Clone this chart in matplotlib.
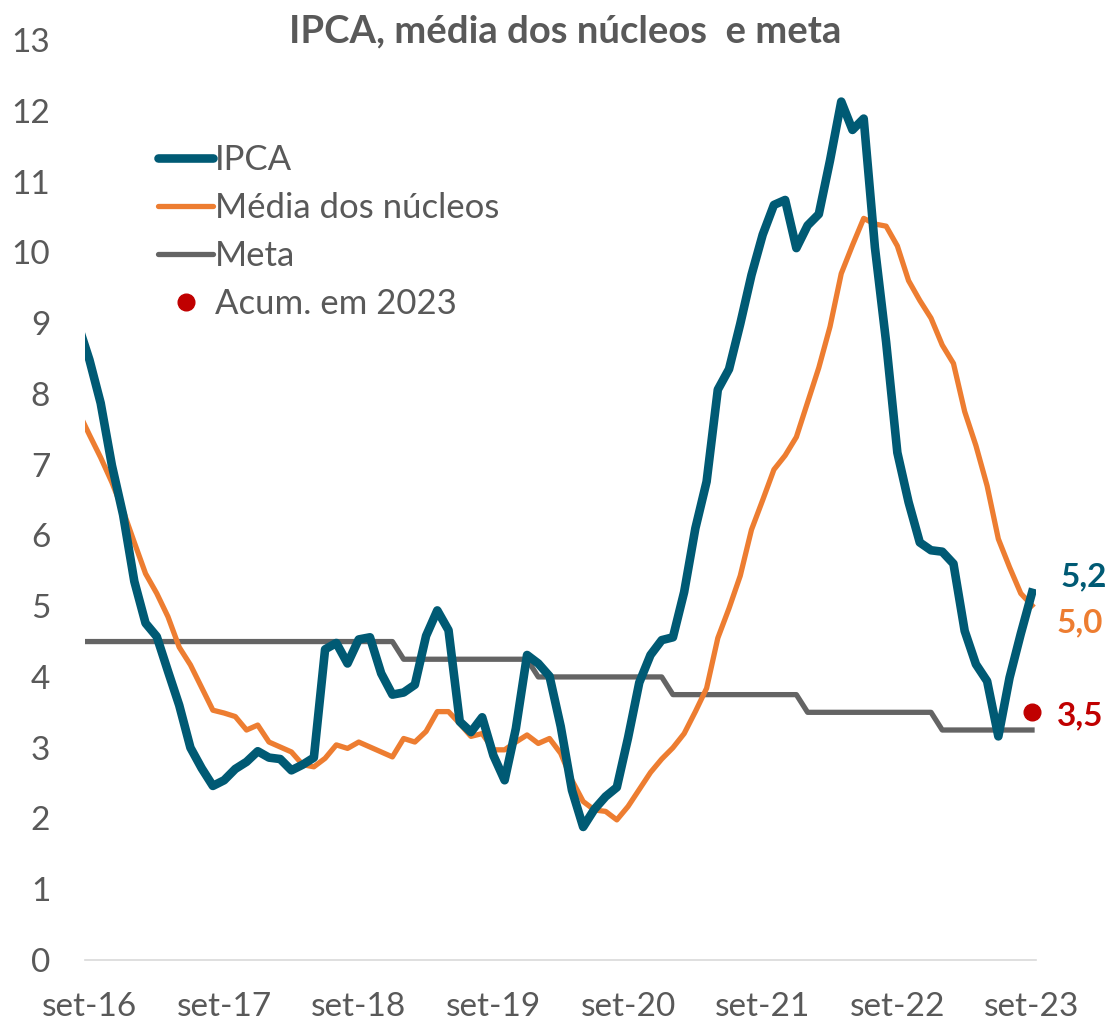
import matplotlib.pyplot as plt
from matplotlib.lines import Line2D

plt.rcParams["font.family"] = ["Lato", "DejaVu Sans"]

# meses: ago-16 (indice -1) ate set-23 (indice 84)
ipca = [
    8.97, 8.48, 7.87, 6.99, 6.29,
    5.35, 4.76, 4.57, 4.08, 3.60, 3.00, 2.71, 2.46, 2.54, 2.70, 2.80, 2.95,
    2.86, 2.84, 2.68, 2.76, 2.86, 4.39, 4.48, 4.19, 4.53, 4.56, 4.05, 3.75,
    3.78, 3.89, 4.58, 4.94, 4.66, 3.37, 3.22, 3.43, 2.89, 2.54, 3.27, 4.31,
    4.19, 4.01, 3.30, 2.40, 1.88, 2.13, 2.31, 2.44, 3.14, 3.92, 4.31, 4.52,
    4.56, 5.20, 6.10, 6.76, 8.06, 8.35, 8.99, 9.68, 10.25, 10.67, 10.74, 10.06,
    10.38, 10.54, 11.30, 12.13, 11.73, 11.89, 10.07, 8.73, 7.17, 6.47, 5.90, 5.79,
    5.77, 5.60, 4.65, 4.18, 3.94, 3.16, 3.99, 4.61, 5.19,
]
nucleos = [
    7.75, 7.42, 7.10, 6.75, 6.35,
    5.90, 5.46, 5.18, 4.85, 4.42, 4.17, 3.85, 3.53, 3.49, 3.44, 3.25, 3.32,
    3.08, 3.01, 2.94, 2.76, 2.73, 2.85, 3.04, 2.99, 3.08, 3.01, 2.94, 2.87,
    3.13, 3.08, 3.23, 3.51, 3.51, 3.34, 3.16, 3.20, 2.97, 2.97, 3.08, 3.18,
    3.06, 3.13, 2.92, 2.54, 2.24, 2.12, 2.10, 1.98, 2.17, 2.41, 2.65, 2.84,
    3.00, 3.20, 3.51, 3.84, 4.55, 4.97, 5.43, 6.08, 6.50, 6.93, 7.13, 7.39,
    7.88, 8.37, 8.95, 9.70, 10.10, 10.48, 10.40, 10.37, 10.09, 9.60, 9.32, 9.07,
    8.69, 8.43, 7.75, 7.27, 6.70, 5.95, 5.55, 5.18, 5.01,
]
meta = [4.5] * 29 + [4.25] * 12 + [4.0] * 12 + [3.75] * 12 + [3.5] * 12 + [3.25] * 9
meses = list(range(-1, 85))

acum_2023 = 3.5
tick_pos = [0, 12, 24, 36, 48, 60, 72, 84]
tick_labels = ["set-16", "set-17", "set-18", "set-19", "set-20", "set-21", "set-22", "set-23"]

TEAL = "#005A74"
ORANGE = "#ED7D31"
GRAY = "#646464"
RED = "#C00000"
TEXT = "#595959"

fig = plt.figure(figsize=(11.12, 10.24), dpi=100)
ax = fig.add_axes([0.0764, 0.0625, 0.8557, 0.8984])

ax.plot(meses, meta, color=GRAY, lw=3.8, solid_joinstyle="round")
ax.plot(meses, nucleos, color=ORANGE, lw=3.8, solid_joinstyle="round")
ax.plot(meses, ipca, color=TEAL, lw=6.2, solid_joinstyle="round")
ax.plot([84], [acum_2023], "o", color=RED, ms=12, clip_on=False)

ax.set_xlim(-0.4, 84.4)
ax.set_ylim(0, 13)
ax.set_yticks(range(0, 14))
ax.set_xticks(tick_pos)
ax.set_xticklabels(tick_labels)
ax.tick_params(axis="y", length=0, pad=25, labelsize=24, labelcolor=TEXT)
ax.tick_params(axis="x", length=0, pad=23, labelsize=24, labelcolor=TEXT)

for s in ["top", "right", "left"]:
    ax.spines[s].set_visible(False)
ax.spines["bottom"].set_color("#D9D9D9")
ax.spines["bottom"].set_linewidth(1.2)

# rotulos finais
ax.text(86.5, 5.41, "5,2", color=TEAL, fontsize=24, fontweight="bold", va="center", clip_on=False)
ax.text(86.2, 4.77, "5,0", color=ORANGE, fontsize=24, fontweight="bold", va="center", clip_on=False)
ax.text(86.2, 3.45, "3,5", color=RED, fontsize=24, fontweight="bold", va="center", clip_on=False)

fig.text(0.508, 0.969, "IPCA, média dos núcleos  e meta", ha="center", va="center",
         fontsize=27.5, fontweight="bold", color=TEXT)

handles = [
    Line2D([], [], color=TEAL, lw=6.2, solid_capstyle="round"),
    Line2D([], [], color=ORANGE, lw=3.8, solid_capstyle="round"),
    Line2D([], [], color=GRAY, lw=3.8, solid_capstyle="round"),
    Line2D([], [], color=RED, marker="o", ls="none", ms=12),
]
labels = ["IPCA", "Média dos núcleos", "Meta", "Acum. em 2023"]
leg = fig.legend(handles, labels, loc="upper left", bbox_to_anchor=(0.142, 0.859),
                 frameon=False, fontsize=25, handlelength=1.6, handletextpad=0.05,
                 labelspacing=0.46, borderpad=0, borderaxespad=0)
for t in leg.get_texts():
    t.set_color(TEXT)

fig.savefig("out.png", dpi=100)
